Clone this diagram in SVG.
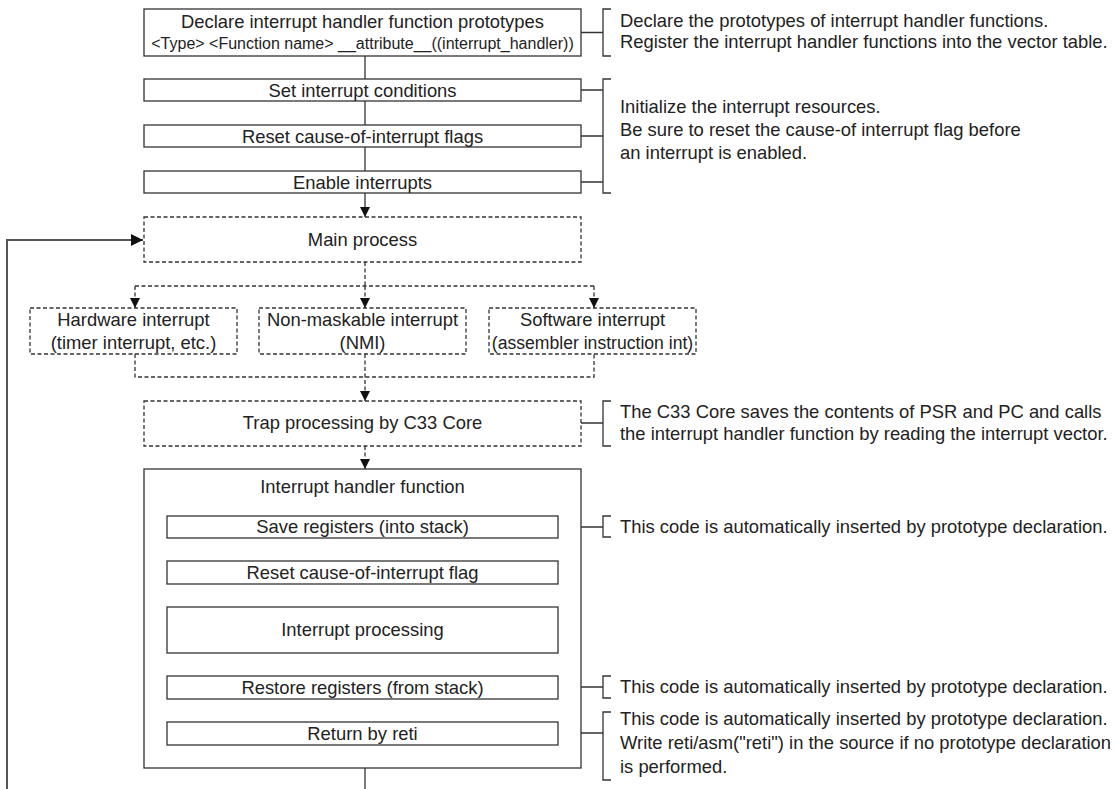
<svg xmlns="http://www.w3.org/2000/svg" width="1118" height="789" viewBox="0 0 1118 789">
  <style>
    .box { fill: #fff; stroke: #333; stroke-width: 1.3; }
    .dbox { fill: #fff; stroke: #333; stroke-width: 1.3; stroke-dasharray: 4 2.5; }
    .ln { fill: none; stroke: #333; stroke-width: 1.3; }
    .dln { fill: none; stroke: #333; stroke-width: 1.3; stroke-dasharray: 4 2.5; }
    .loop { fill: none; stroke: #555; stroke-width: 2; }
    text { font-family: "Liberation Sans", Arial, sans-serif; font-size: 18.4px; fill: #222; }
    .c { text-anchor: middle; }
    .sm { font-size: 16px; }
    .fit { font-size: 17.6px; }
  </style>
  <defs>
    <marker id="arr" viewBox="0 0 10 10" refX="10" refY="5" markerWidth="11" markerHeight="10" markerUnits="userSpaceOnUse" orient="auto">
      <path d="M0,0 L10,5 L0,10 z" fill="#111" stroke="none"/>
    </marker>
    <marker id="arrL" viewBox="0 0 10 10" refX="10" refY="5" markerWidth="12" markerHeight="12" markerUnits="userSpaceOnUse" orient="auto">
      <path d="M0,0 L10,5 L0,10 z" fill="#111" stroke="none"/>
    </marker>
  </defs>

  <!-- connectors -->
  <g id="connectors">
    <!-- initialisation chain -->
    <path class="ln" d="M365 56 V79 M365 101 V125 M365 147 V171"/>
    <path class="ln" d="M365 193 V217" marker-end="url(#arr)"/>
    <!-- fan-out from main process -->
    <path class="dln" d="M365 262 V286 M135 286 H594"/>
    <path class="dln" d="M135 286 V308" marker-end="url(#arr)"/>
    <path class="dln" d="M365 286 V308" marker-end="url(#arr)"/>
    <path class="dln" d="M594 286 V308" marker-end="url(#arr)"/>
    <!-- merge into trap processing -->
    <path class="dln" d="M135 354 V377 H594 V354"/>
    <path class="dln" d="M365 354 V401" marker-end="url(#arr)"/>
    <path class="dln" d="M365 446 V469" marker-end="url(#arr)"/>
    <!-- handler chain -->
    <path class="ln" d="M365 538 V561 M365 584 V607 M365 653 V676 M365 699 V722 M365 745 V789"/>
    <!-- return loop back to main process -->
    <path class="loop" d="M7 789 V240 H143" marker-end="url(#arrL)"/>

    <!-- annotation brackets -->
    <path class="ln" d="M581 32.5 H603 M611 9 H603 V56 H611"/>
    <path class="ln" d="M581 90 H603 M581 136 H603 M581 182 H603 M611 79 H603 V193 H611"/>
    <path class="ln" d="M581 423 H603 M611 401 H603 V446 H611"/>
    <path class="ln" d="M558 527 H603 M611 516 H603 V537 H611"/>
    <path class="ln" d="M558 687 H603 M611 676 H603 V698 H611"/>
    <path class="ln" d="M558 733 H603 M611 712 H603 V780 H611"/>
  </g>

  <!-- initialisation -->
  <g id="declare">
    <rect class="box" x="144" y="9" width="437" height="47"/>
    <text class="c" x="362.5" y="28">Declare interrupt handler function prototypes</text>
    <text class="c sm" x="362.5" y="49">&lt;Type&gt; &lt;Function name&gt; __attribute__((interrupt_handler))</text>
  </g>
  <g id="set-conditions">
    <rect class="box" x="144" y="79" width="437" height="22"/>
    <text class="c" x="362.5" y="97">Set interrupt conditions</text>
  </g>
  <g id="reset-flags">
    <rect class="box" x="144" y="125" width="437" height="22"/>
    <text class="c" x="362.5" y="143">Reset cause-of-interrupt flags</text>
  </g>
  <g id="enable">
    <rect class="box" x="144" y="171" width="437" height="22"/>
    <text class="c" x="362.5" y="189">Enable interrupts</text>
  </g>

  <!-- main process and interrupt sources -->
  <g id="main-process">
    <rect class="dbox" x="144" y="217" width="437" height="45"/>
    <text class="c" x="362.5" y="246">Main process</text>
  </g>
  <g id="hw-interrupt">
    <rect class="dbox" x="30" y="308" width="207" height="46"/>
    <text class="c" x="133.5" y="326">Hardware interrupt</text>
    <text class="c" x="133.5" y="349">(timer interrupt, etc.)</text>
  </g>
  <g id="nmi">
    <rect class="dbox" x="259" y="308" width="207" height="46"/>
    <text class="c" x="362.5" y="326">Non-maskable interrupt</text>
    <text class="c" x="362.5" y="349">(NMI)</text>
  </g>
  <g id="sw-interrupt">
    <rect class="dbox" x="489" y="308" width="207" height="46"/>
    <text class="c" x="592.5" y="326">Software interrupt</text>
    <text class="c fit" x="592.5" y="349">(assembler instruction int)</text>
  </g>
  <g id="trap">
    <rect class="dbox" x="144" y="401" width="437" height="45"/>
    <text class="c" x="362.5" y="429">Trap processing by C33 Core</text>
  </g>

  <!-- interrupt handler function -->
  <g id="handler">
    <rect class="box" x="144" y="469" width="437" height="299" fill="none"/>
    <text class="c" x="362.5" y="493">Interrupt handler function</text>
  </g>
  <g id="save-regs">
    <rect class="box" x="167" y="516" width="391" height="22"/>
    <text class="c" x="362.5" y="533">Save registers (into stack)</text>
  </g>
  <g id="reset-flag">
    <rect class="box" x="167" y="561" width="391" height="23"/>
    <text class="c" x="362.5" y="579">Reset cause-of-interrupt flag</text>
  </g>
  <g id="processing">
    <rect class="box" x="167" y="607" width="391" height="46"/>
    <text class="c" x="362.5" y="636">Interrupt processing</text>
  </g>
  <g id="restore-regs">
    <rect class="box" x="167" y="676" width="391" height="23"/>
    <text class="c" x="362.5" y="694">Restore registers (from stack)</text>
  </g>
  <g id="reti">
    <rect class="box" x="167" y="722" width="391" height="23"/>
    <text class="c" x="362.5" y="740">Return by reti</text>
  </g>

  <!-- annotations -->
  <g id="note-declare">
    <text x="620" y="26.5">Declare the prototypes of interrupt handler functions.</text>
    <text x="620" y="47.5">Register the interrupt handler functions into the vector table.</text>
  </g>
  <g id="note-init">
    <text x="620" y="113">Initialize the interrupt resources.</text>
    <text x="620" y="136">Be sure to reset the cause-of interrupt flag before</text>
    <text x="620" y="159">an interrupt is enabled.</text>
  </g>
  <g id="note-trap">
    <text x="620" y="418">The C33 Core saves the contents of PSR and PC and calls</text>
    <text x="620" y="440">the interrupt handler function by reading the interrupt vector.</text>
  </g>
  <g id="note-save">
    <text x="620" y="533">This code is automatically inserted by prototype declaration.</text>
  </g>
  <g id="note-restore">
    <text x="620" y="693">This code is automatically inserted by prototype declaration.</text>
  </g>
  <g id="note-reti">
    <text x="620" y="725">This code is automatically inserted by prototype declaration.</text>
    <text x="620" y="749">Write reti/asm("reti") in the source if no prototype declaration</text>
    <text x="620" y="773">is performed.</text>
  </g>
</svg>
